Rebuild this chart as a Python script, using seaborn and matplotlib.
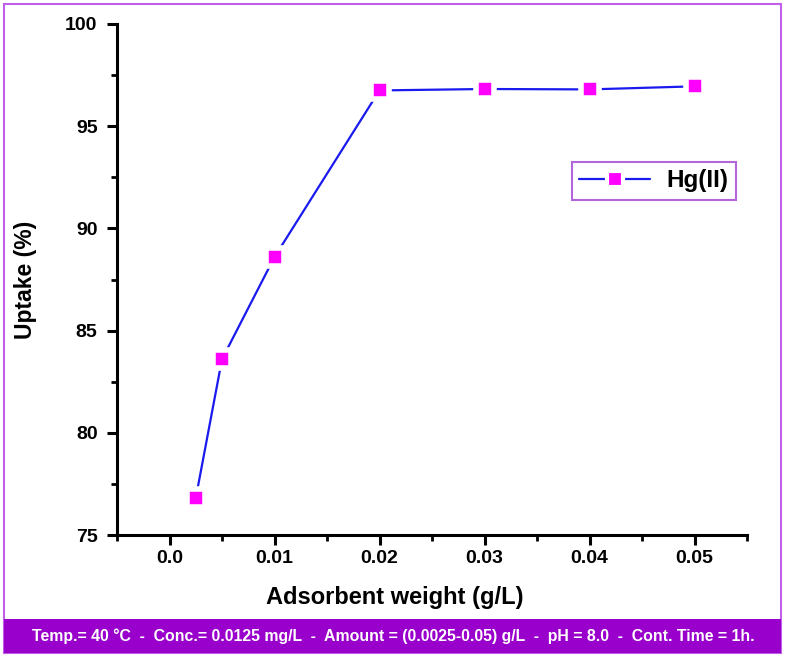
import matplotlib
matplotlib.use("Agg")
import matplotlib.pyplot as plt
from matplotlib.patches import Rectangle
from matplotlib.ticker import MultipleLocator
import seaborn as sns
import pandas as pd

weights = [0.0025, 0.005, 0.01, 0.02, 0.03, 0.04, 0.05]
uptake = [76.8, 83.6, 88.6, 96.75, 96.82, 96.8, 96.95]
series_name = "Hg(II)"
x_ticks = [0.0, 0.01, 0.02, 0.03, 0.04, 0.05]
x_tick_labels = ["0.0", "0.01", "0.02", "0.03", "0.04", "0.05"]
y_ticks = [75, 80, 85, 90, 95, 100]
footer = "Temp.= 40 °C  -  Conc.= 0.0125 mg/L  -  Amount = (0.0025-0.05) g/L  -  pH = 8.0  -  Cont. Time = 1h."

df = pd.DataFrame({"weight": weights, "uptake": uptake, "metal": series_name})

sns.set_style("ticks")
plt.rcParams["font.family"] = ["Liberation Sans", "DejaVu Sans"]
plt.rcParams["text.color"] = "black"
plt.rcParams["axes.labelcolor"] = "black"
plt.rcParams["xtick.color"] = "black"
plt.rcParams["ytick.color"] = "black"
plt.rcParams["axes.edgecolor"] = "black"

fig = plt.figure(figsize=(7.86, 6.59), dpi=100)
ax = fig.add_axes([117 / 786, 1 - 535 / 659, (747 - 117) / 786, (535 - 24) / 659])

sns.lineplot(data=df, x="weight", y="uptake", hue="metal", palette=["#1a1aee"],
             marker="s", markersize=13, markerfacecolor="#ff00ff",
             markeredgecolor="white", markeredgewidth=4, linewidth=1.6, ax=ax)

ax.set_xlim(-0.005, 0.055)
ax.set_ylim(75, 100)
ax.set_xticks(x_ticks)
ax.set_xticklabels(x_tick_labels)
ax.set_yticks(y_ticks)
ax.xaxis.set_minor_locator(MultipleLocator(0.005))
ax.yaxis.set_minor_locator(MultipleLocator(2.5))
ax.tick_params(which="major", length=7, width=2.2, direction="out", labelsize=14)
ax.tick_params(axis="y", which="major", pad=7)
ax.tick_params(axis="x", which="major", pad=4)
ax.tick_params(which="minor", length=4, width=2, direction="out")
for lab in ax.get_xticklabels() + ax.get_yticklabels():
    lab.set_fontweight("bold")
sns.despine(ax=ax)
ax.spines["left"].set_linewidth(2.2)
ax.spines["bottom"].set_linewidth(2.2)

ax.set_xlabel("Adsorbent weight (g/L)", fontsize=17, fontweight="bold")
ax.xaxis.set_label_coords((395 - 117) / 630, -(586 - 535) / 511)
ax.set_ylabel("Uptake (%)", fontsize=16.5, fontweight="bold")
ax.yaxis.set_label_coords(-(117 - 37) / 630, 0.5)

leg = ax.legend(loc="upper left", bbox_to_anchor=((572 - 117) / 630, 1 - (162 - 24) / 511),
                borderaxespad=0, frameon=True, fancybox=False, handlelength=2.9,
                prop={"weight": "bold", "size": 17.5}, borderpad=0.3, handletextpad=0.7)
leg.get_frame().set_edgecolor("#a040d0")
leg.get_frame().set_linewidth(1.5)
for h in leg.legend_handles:
    h.set_markeredgewidth(3)
    h.set_markeredgecolor("white")
    h.set_markersize(12)

fig.patches.append(Rectangle((4 / 786, 1 - 653 / 659), 777 / 786, 649 / 659,
                             transform=fig.transFigure, fill=False,
                             edgecolor="#c060e8", linewidth=1.5))
fig.patches.append(Rectangle((4 / 786, 1 - 653 / 659), 777 / 786, 34 / 659,
                             transform=fig.transFigure, facecolor="#9900cc",
                             edgecolor="none"))
fig.text(0.5, 1 - 636 / 659, footer, ha="center", va="center", color="white",
         fontsize=11.4, fontweight="bold")

fig.savefig("out.png", dpi=100)
